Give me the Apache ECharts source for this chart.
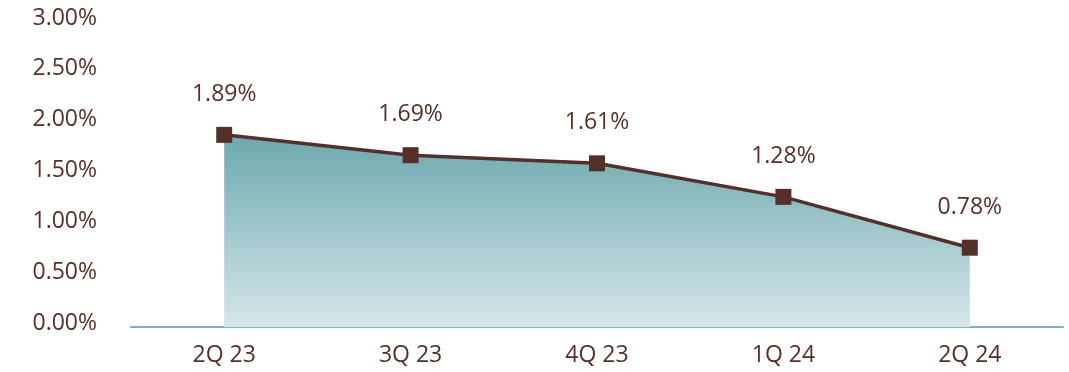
<!DOCTYPE html>
<html>
<head>
<meta charset="utf-8">
<script src="https://cdn.jsdelivr.net/npm/echarts@6/dist/echarts.min.js"></script>
<style>
  html, body { margin: 0; padding: 0; background: #fff; }
  #chart { width: 1069px; height: 372px; }
</style>
</head>
<body>
<div id="chart"></div>
<script>
// Quarterly ratio, in percent
const quarters = ['2Q 23', '3Q 23', '4Q 23', '1Q 24', '2Q 24'];
const ratios = [1.89, 1.69, 1.61, 1.28, 0.78];
const yTicks = [0, 0.5, 1, 1.5, 2, 2.5, 3];

const brown = '#55302a';
const font = '"Open Sans", sans-serif';

const chart = echarts.init(document.getElementById('chart'), null, { renderer: 'canvas' });
chart.setOption({
  animation: false,
  grid: { left: 131, right: 6, top: 22, bottom: 45 },
  xAxis: {
    type: 'category',
    data: quarters,
    boundaryGap: true,
    axisLine: { lineStyle: { color: '#7db3b8', width: 2 } },
    axisTick: { show: false },
    axisLabel: { color: brown, fontFamily: font, fontSize: 23, margin: 17 }
  },
  yAxis: {
    type: 'value',
    min: yTicks[0],
    max: yTicks[yTicks.length - 1],
    interval: 0.5,
    splitLine: { show: false },
    axisLine: { show: false },
    axisTick: { show: false },
    axisLabel: {
      color: brown, fontFamily: font, fontSize: 23, margin: 34,
      formatter: v => '{t|' + v.toFixed(2) + '%}',
      rich: {
        // sit the tick text a few pixels above its tick
        t: { color: brown, fontFamily: font, fontSize: 23, lineHeight: 23, padding: [0, 0, 8, 0] }
      }
    }
  },
  series: [{
    type: 'line',
    data: ratios,
    symbol: 'rect',
    symbolSize: 16,
    itemStyle: { color: brown },
    lineStyle: { color: brown, width: 3.5 },
    areaStyle: {
      opacity: 1,
      color: new echarts.graphic.LinearGradient(0, 0, 0, 1, [
        { offset: 0, color: '#6ca8af' },
        { offset: 1, color: '#d5e7ea' }
      ])
    },
    label: {
      show: true,
      position: 'top',
      distance: 21,
      color: brown,
      fontFamily: font,
      fontSize: 23,
      formatter: p => p.value.toFixed(2) + '%'
    }
  }]
});
</script>
</body>
</html>
